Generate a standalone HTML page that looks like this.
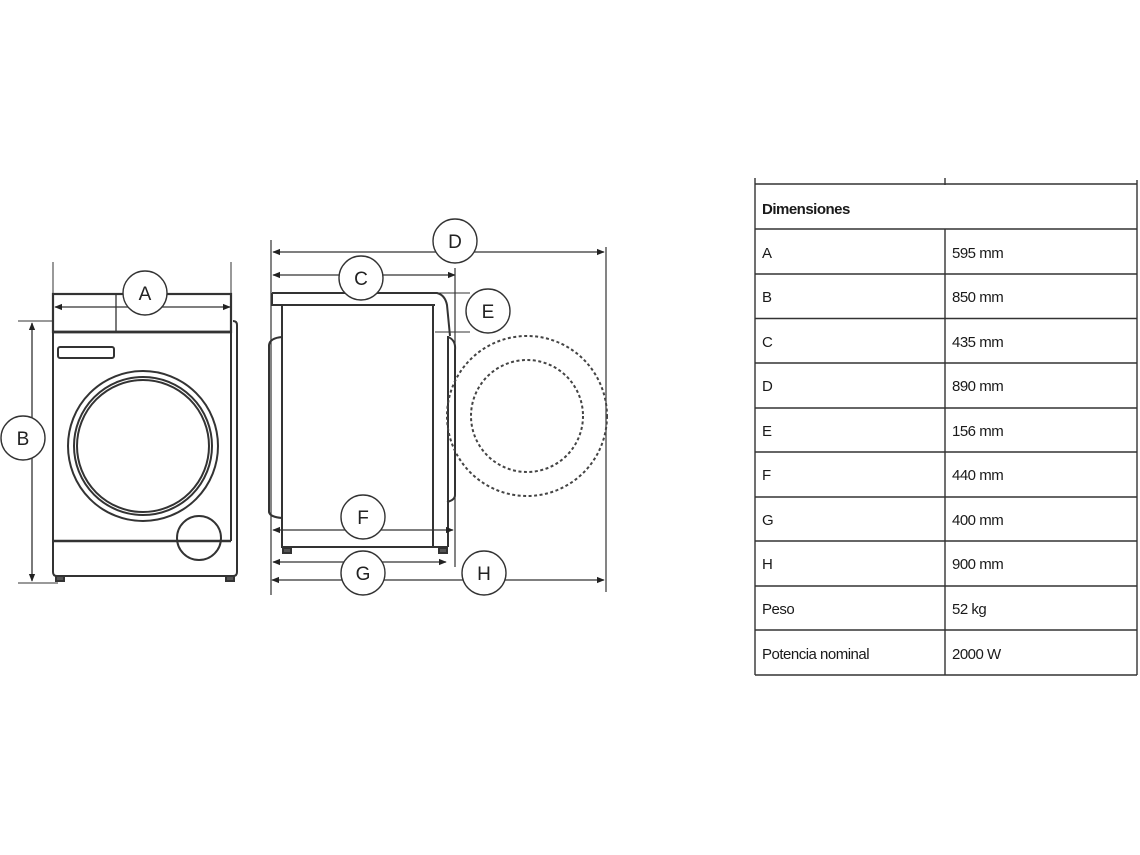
<!DOCTYPE html>
<html><head><meta charset="utf-8"><style>
body{margin:0;background:#fff;width:1140px;height:855px;overflow:hidden;font-family:"Liberation Sans",sans-serif;}
svg{position:absolute;left:0;top:0}
.t{font-size:15px;fill:#1a1a1a;letter-spacing:-0.5px}
.c{font-size:19px;fill:#222;text-anchor:middle}
</style></head><body>
<svg width="1140" height="855" viewBox="0 0 1140 855">
<defs><marker id="a" viewBox="0 0 10 10" refX="9" refY="5" markerWidth="6" markerHeight="6" orient="auto-start-reverse"><path d="M0,1 L10,5 L0,9z" fill="#222"/></marker></defs>
<g stroke="#333" fill="none" stroke-width="2">
<!-- front view -->
<line x1="53" y1="262" x2="53" y2="295" stroke-width="1"/>
<line x1="231" y1="262" x2="231" y2="295" stroke-width="1"/>
<rect x="53" y="294" width="178" height="38" stroke-width="2.2"/>
<line x1="55" y1="307" x2="230" y2="307" marker-start="url(#a)" marker-end="url(#a)" stroke-width="1.3"/>
<line x1="116" y1="294" x2="116" y2="331" stroke-width="1.3"/>
<line x1="18" y1="321" x2="53" y2="321" stroke-width="1"/>
<line x1="18" y1="583" x2="58" y2="583" stroke-width="1"/>
<line x1="32" y1="323" x2="32" y2="581" marker-start="url(#a)" marker-end="url(#a)" stroke-width="1.3"/>
<path d="M53,332 V572 Q53,576 57,576 H233 Q237,576 237,572 V325 Q237,321 233,321"/>
<line x1="53" y1="332" x2="231" y2="332" stroke-width="2.8"/>
<line x1="231" y1="332" x2="231" y2="541"/>
<line x1="54" y1="541" x2="231" y2="541" stroke-width="2.4"/>
<rect x="58" y="347" width="56" height="11" rx="2"/>
<circle cx="143" cy="446" r="75"/>
<circle cx="143" cy="446" r="69"/>
<circle cx="143" cy="446" r="66"/>
<circle cx="199" cy="538" r="22"/>
<rect x="56" y="576" width="8" height="5" fill="#555"/>
<rect x="226" y="576" width="8" height="5" fill="#555"/>
<!-- side view -->
<line x1="271" y1="240" x2="271" y2="595" stroke-width="1.2"/>
<line x1="606" y1="247" x2="606" y2="592" stroke-width="1.2"/>
<line x1="273" y1="252" x2="604" y2="252" marker-start="url(#a)" marker-end="url(#a)" stroke-width="1.3"/>
<line x1="273" y1="275" x2="455" y2="275" marker-start="url(#a)" marker-end="url(#a)" stroke-width="1.3"/>
<line x1="455" y1="268" x2="455" y2="567" stroke-width="1.2"/>
<path d="M272,293 H437 Q445,295 447,305 L450,336 M272,293 V305 H435"/>
<line x1="437" y1="293" x2="470" y2="293" stroke-width="1"/>
<line x1="435" y1="332" x2="470" y2="332" stroke-width="1"/>
<path d="M282,305 V547 H447 M433,305 V547"/>
<path d="M282,337 Q270,338 269,345 V512 Q270,517 282,518"/>
<path d="M448,337 Q456,340 455,350 V495 Q455,500 447,502"/>
<line x1="448" y1="336" x2="448" y2="547"/>
<g stroke-dasharray="3,2.5" stroke-width="2" stroke="#444"><circle cx="527" cy="416" r="80"/><circle cx="527" cy="416" r="56"/></g>
<line x1="273" y1="530" x2="453" y2="530" marker-start="url(#a)" marker-end="url(#a)" stroke-width="1.3"/>
<line x1="273" y1="562" x2="446" y2="562" marker-start="url(#a)" marker-end="url(#a)" stroke-width="1.3"/>
<line x1="272" y1="580" x2="604" y2="580" marker-start="url(#a)" marker-end="url(#a)" stroke-width="1.3"/>
<rect x="283" y="548" width="8" height="5" fill="#555"/>
<rect x="439" y="548" width="8" height="5" fill="#555"/>
</g>
<g fill="#fff" stroke="#333" stroke-width="1.4">
<circle cx="145" cy="293" r="22"/><circle cx="23" cy="438" r="22"/>
<circle cx="455" cy="241" r="22"/><circle cx="361" cy="278" r="22"/>
<circle cx="488" cy="311" r="22"/><circle cx="363" cy="517" r="22"/>
<circle cx="363" cy="573" r="22"/><circle cx="484" cy="573" r="22"/>
</g>
<g class="c">
<text x="145" y="300">A</text><text x="23" y="445">B</text>
<text x="455" y="248">D</text><text x="361" y="285">C</text>
<text x="488" y="318">E</text><text x="363" y="524">F</text>
<text x="363" y="580">G</text><text x="484" y="580">H</text>
</g>
<!-- table -->
<g stroke="#333" stroke-width="1.4" fill="none">
<line x1="755" y1="178" x2="755" y2="675"/>
<line x1="1137" y1="180" x2="1137" y2="675"/>
<line x1="945" y1="178" x2="945" y2="185"/>
<line x1="945" y1="229" x2="945" y2="675"/>
<line x1="755" y1="184" x2="1137" y2="184"/>
<line x1="755" y1="229" x2="1137" y2="229"/>
<line x1="755" y1="274" x2="1137" y2="274"/>
<line x1="755" y1="318.5" x2="1137" y2="318.5"/>
<line x1="755" y1="363" x2="1137" y2="363"/>
<line x1="755" y1="408" x2="1137" y2="408"/>
<line x1="755" y1="452" x2="1137" y2="452"/>
<line x1="755" y1="497" x2="1137" y2="497"/>
<line x1="755" y1="541" x2="1137" y2="541"/>
<line x1="755" y1="586" x2="1137" y2="586"/>
<line x1="755" y1="630" x2="1137" y2="630"/>
<line x1="755" y1="675" x2="1137" y2="675"/>
</g>
<g class="t">
<text x="762" y="214" font-weight="bold">Dimensiones</text>
<text x="762" y="258">A</text><text x="952" y="258">595 mm</text>
<text x="762" y="302">B</text><text x="952" y="302">850 mm</text>
<text x="762" y="347">C</text><text x="952" y="347">435 mm</text>
<text x="762" y="391">D</text><text x="952" y="391">890 mm</text>
<text x="762" y="436">E</text><text x="952" y="436">156 mm</text>
<text x="762" y="480">F</text><text x="952" y="480">440 mm</text>
<text x="762" y="525">G</text><text x="952" y="525">400 mm</text>
<text x="762" y="569">H</text><text x="952" y="569">900 mm</text>
<text x="762" y="614">Peso</text><text x="952" y="614">52 kg</text>
<text x="762" y="659">Potencia nominal</text><text x="952" y="659">2000 W</text>
</g>
</svg>
</body></html>
